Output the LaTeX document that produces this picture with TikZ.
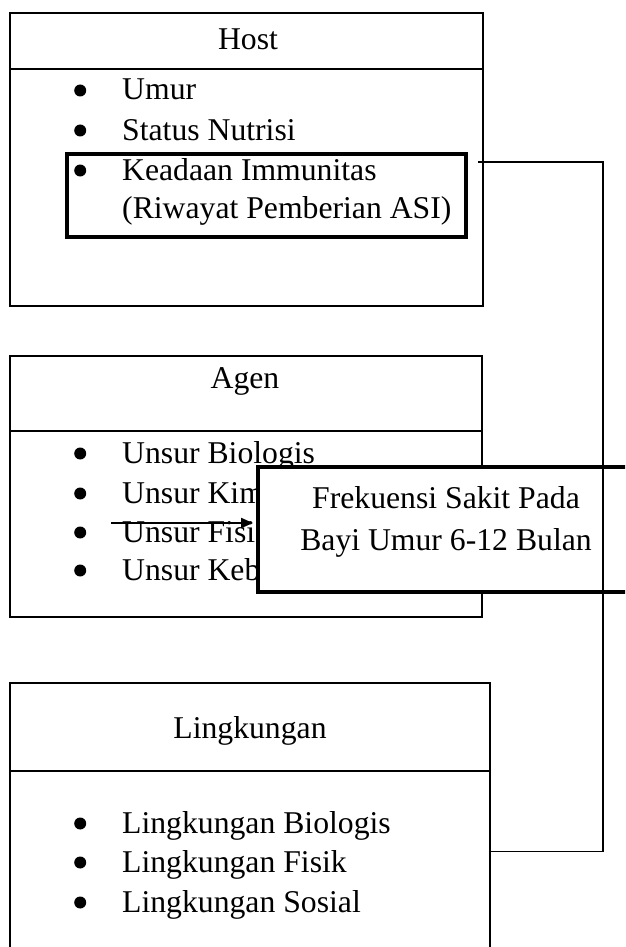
\documentclass[tikz,border=0pt]{standalone}
\usepackage{fontspec}
\setmainfont{Liberation Serif}
\usetikzlibrary{positioning, arrows.meta}
\tikzset{
  box/.style={draw, line width=1.2pt, inner sep=0pt},
  thickbox/.style={draw, line width=4pt, inner sep=0pt},
  title/.style={anchor=base, inner sep=0pt},
  item/.style={anchor=base west, inner sep=0pt},
  conn/.style={line width=1.5pt},
  arrow/.style={line width=2pt, -{Triangle[length=12pt, width=10pt]}, shorten >=3pt}
}
\newcommand{\bul}{\llap{\tikz[baseline=-9.5pt]\fill (0pt,0pt) circle (6pt);\hspace{36pt}}}

\begin{document}
\begin{tikzpicture}[x=1pt, y=-1pt, font=\fontsize{31.7}{40}\selectfont]
            \clip (0,0) rectangle (625,947);
            \fill[white] (0,0) rectangle (625,947);

            \node[box, minimum width=473pt, minimum height=56pt] (hosthead) at (246.5,41) {};
            \node[box, minimum width=473pt, minimum height=237pt] (hostbody) at (246.5,187.5) {};
            \node[title] (hosttitle) at (248,50) {Host};
            \node[item] (umur) at (122,100) {\bul Umur};
            \node[item] (nutrisi) at (122,140) {\bul Status Nutrisi};
            \node[item] (imun) at (122,180) {\bul Keadaan Immunitas};
            \node[item] (asi) at (122,218) {(Riwayat Pemberian ASI)};
            \node[thickbox, minimum width=399pt, minimum height=83pt] (immun) at (266.5,195.5) {};

            \node[box, minimum width=472pt, minimum height=75pt] (agenhead) at (246,393.5) {};
            \node[box, minimum width=472pt, minimum height=186pt] (agenbody) at (246,524) {};
            \node[title] (agentitle) at (245,388) {Agen};
            \node[item] (biologis) at (122,463) {\bul Unsur Biologis};
            \node[item] (kimia) at (122,503) {\bul Unsur Kim};
            \node[item] (fisika) at (122,542) {\bul Unsur Fisi};
            \node[item] (keb) at (122,580) {\bul Unsur Keb};

            \node[box, minimum width=480pt, minimum height=88pt] (linghead) at (250,727) {};
            \node[box, minimum width=480pt, minimum height=189pt] (lingbody) at (250,865.5) {};
            \node[title] (lingtitle) at (250,738) {Lingkungan};
            \node[item] (lbiologis) at (122,833) {\bul Lingkungan Biologis};
            \node[item] (lfisik) at (122,872) {\bul Lingkungan Fisik};
            \node[item] (lsosial) at (122,912) {\bul Lingkungan Sosial};

            \node[thickbox, fill=white, minimum width=402pt, minimum height=125pt] (outcome) at (459,529.5) {};
            \node[align=center, inner sep=0pt] (outtext) at (446,521.5) {Frekuensi Sakit Pada\\[2pt]Bayi Umur 6-12 Bulan};

            \coordinate (arrstart) at (111,523);
            \coordinate (hostout) at (478,162);
            \draw[arrow] (arrstart) -- (arrstart -| outcome.west);
            \draw[conn] (hostout) -- ++(125,0) |- ([yshift=-81pt]lingbody.north east);
        \end{tikzpicture}
\end{document}
